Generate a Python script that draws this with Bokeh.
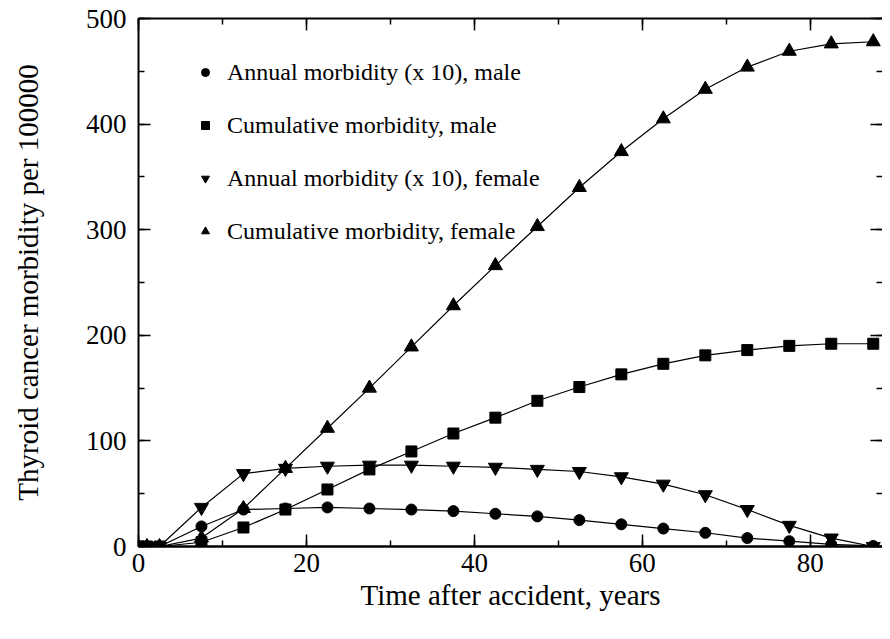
from bokeh.plotting import figure
from bokeh.models import (LinearAxis, SingleIntervalTicker, Legend, LegendItem,
                          CustomJSTickFormatter, Range1d)
from bokeh.embed import file_html
from bokeh.resources import INLINE

# ---- data ----
years = [0, 1, 2.5, 7.5, 12.5, 17.5, 22.5, 27.5, 32.5, 37.5, 42.5, 47.5,
         52.5, 57.5, 62.5, 67.5, 72.5, 77.5, 82.5, 87.5]
annual_male_x10 = [0, 0, 0, 19, 35, 36, 37, 36, 35, 33.5, 31, 28.5,
                   25, 21, 17, 13, 8, 5, 2, 0.5]
cumulative_male = [0, 0, 0, 4, 18, 35, 54, 73, 90, 107, 122, 138,
                   151, 163, 173, 181, 186, 190, 192, 192]
annual_female_x10 = [0, 0, 0, 37, 69, 74, 76, 77, 77, 76, 75, 73,
                     71, 66, 59, 49, 35, 20, 8, 0]
cumulative_female = [0, 0, 0, 8, 36, 74, 112, 150, 189, 228, 266, 303,
                     340, 374, 405, 433, 454, 469, 476, 478]
labels = ["Annual morbidity (x 10), male",
          "Cumulative morbidity, male",
          "Annual morbidity (x 10), female",
          "Cumulative morbidity, female"]
x_title = "Time after accident, years"
y_title = "Thyroid cancer morbidity per 100000"

FONT = "'Liberation Serif', 'Times New Roman', serif"

p = figure(width=882, height=631, output_backend="svg", toolbar_location=None,
           x_range=Range1d(0, 88.6), y_range=Range1d(0, 500),
           min_border_left=138, min_border_top=18, min_border_right=0,
           min_border_bottom=85, x_axis_type=None, y_axis_type=None)
p.grid.visible = False
p.outline_line_color = None
p.background_fill_color = "white"
p.border_fill_color = "white"


def style_axis(ax, interval, show_labels):
    ax.ticker = SingleIntervalTicker(interval=interval, num_minor_ticks=2)
    ax.major_tick_in = 12
    ax.major_tick_out = 0
    ax.minor_tick_in = 6
    ax.minor_tick_out = 0
    ax.major_tick_line_color = "black"
    ax.minor_tick_line_color = "black"
    ax.major_tick_line_width = 1.5
    ax.minor_tick_line_width = 1.5
    ax.major_label_text_font = FONT
    ax.major_label_text_font_size = "27px"
    ax.major_label_text_color = "black"
    ax.axis_label_text_font = FONT
    ax.axis_label_text_font_size = "29px"
    ax.axis_label_text_font_style = "normal"
    ax.axis_label_text_color = "black"
    if not show_labels:
        ax.formatter = CustomJSTickFormatter(code="return ''")
        ax.major_label_standoff = 0


xb = LinearAxis(axis_label=x_title)
style_axis(xb, 20, True)
xb.axis_line_width = 2.5
xb.major_label_standoff = 7
xb.axis_label_standoff = 4
p.add_layout(xb, "below")

yl = LinearAxis(axis_label=y_title)
style_axis(yl, 100, True)
yl.axis_line_width = 2
yl.major_label_standoff = 12
yl.axis_label_standoff = 39
p.add_layout(yl, "left")

xt = LinearAxis()
style_axis(xt, 20, False)
xt.axis_line_color = "black"
xt.axis_line_width = 2
p.add_layout(xt, "above")

yr = LinearAxis()
style_axis(yr, 100, False)
yr.axis_line_color = None
p.add_layout(yr, "right")

series = [
    (annual_male_x10, "circle", 11),
    (cumulative_male, "square", 11),
    (annual_female_x10, "inverted_triangle", 14),
    (cumulative_female, "triangle", 14),
]

items = []
for (vals, marker, size), lab in zip(series, labels):
    p.line(years, vals, line_color="black", line_width=1.2)
    r = p.scatter(years, vals, marker=marker, size=size,
                  fill_color="black", line_color="black")
    items.append(LegendItem(label=lab, renderers=[r]))

legend = Legend(items=items, location=(57, 300), padding=0, margin=0,
                spacing=23, glyph_width=20, glyph_height=30, label_height=30,
                label_standoff=12, label_text_font=FONT,
                label_text_font_size="24px", label_text_color="black",
                border_line_color=None, background_fill_alpha=0)
p.add_layout(legend, "center")

open("out.html", "w").write(file_html(p, INLINE))
